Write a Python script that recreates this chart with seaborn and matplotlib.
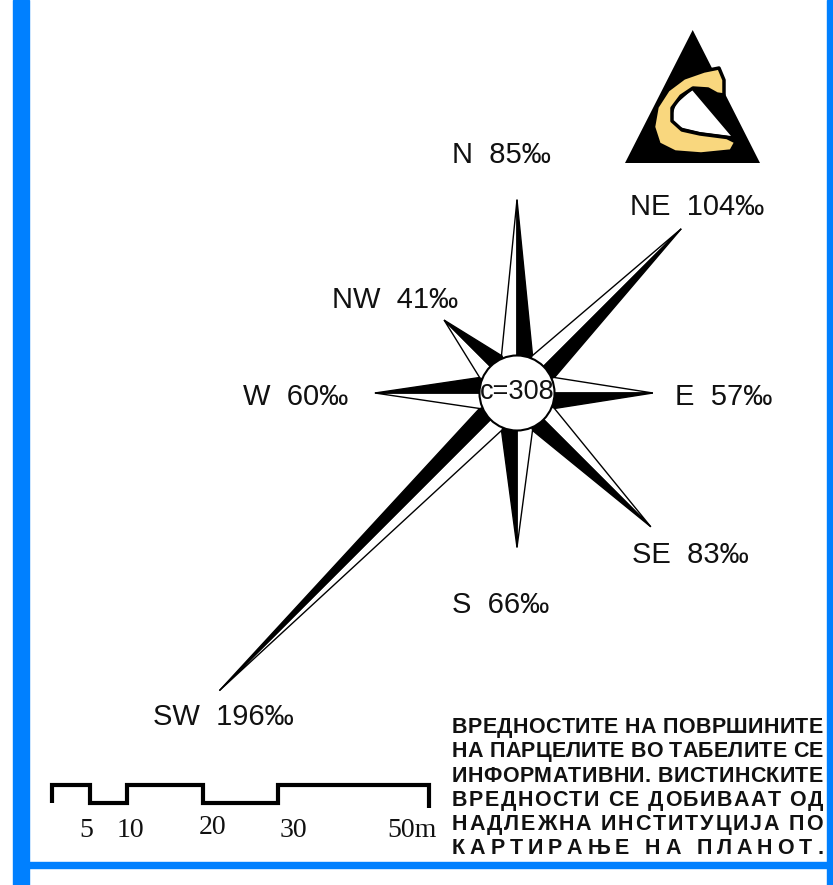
import numpy as np
import matplotlib
matplotlib.use("Agg")
import matplotlib.pyplot as plt
import seaborn as sns
from matplotlib.patches import Polygon, Circle, Rectangle
from matplotlib.font_manager import FontProperties, findfont
from matplotlib.ft2font import FT2Font

# ---- data ----
directions = ["N", "NE", "E", "SE", "S", "SW", "W", "NW"]
angles_deg = [90, 45, 0, -45, -90, -135, 180, 135]
values = [85, 104, 57, 83, 66, 196, 60, 41]   # promille
total_label = "c=308"

scale_ticks = [0, 5, 10, 20, 30, 50]
scale_levels = [1, 0, 1, 0, 1]               # up / down per segment
scale_labels = ["5", "10", "20", "30", "50m"]
scale_label_at = [5, 10, 20, 30, 50]

note_lines = [
    "ВРЕДНОСТИТЕ НА ПОВРШИНИТЕ",
    "НА ПАРЦЕЛИТЕ ВО ТАБЕЛИТЕ СЕ",
    "ИНФОРМАТИВНИ. ВИСТИНСКИТЕ",
    "ВРЕДНОСТИ СЕ ДОБИВААТ ОД",
    "НАДЛЕЖНА ИНСТИТУЦИЈА ПО",
    "КАРТИРАЊЕ НА ПЛАНОТ.",
]

# ---- style ----
sns.set_theme(style="white")
plt.rcParams["font.family"] = ["Liberation Sans", "DejaVu Sans"]

W, H = 833, 885
DPI = 100
BLUE = "#0080FF"
fig = plt.figure(figsize=(W / DPI, H / DPI), dpi=DPI)
fig.patch.set_facecolor("white")

# blue frame
fig.patches.append(Rectangle((13 / W, 0), 16 / W, 1, transform=fig.transFigure, color=BLUE))
fig.patches.append(Rectangle((827 / W, 0), 6 / W, 1, transform=fig.transFigure, color=BLUE))
fig.patches.append(Rectangle((29 / W, 1 - 868 / H), 800 / W, 6 / H, transform=fig.transFigure, color=BLUE))

# ---- wind rose (units = promille) ----
px_per_unit = 2.05
cx, cy = 517, 393
ax = fig.add_axes([0, 0, 1, 1])
ax.set_xlim(-cx / px_per_unit, (W - cx) / px_per_unit)
ax.set_ylim(-(H - cy) / px_per_unit, cy / px_per_unit)
ax.set_aspect("equal")
ax.axis("off")
ax.patch.set_alpha(0)

base_r = 18.0
half_w = 7.6
offset0 = 9.3
label_offsets = {  # pixels from arm tip to label (left, baseline)
    "N": (-65, 37), "NE": (-51, 14), "E": (22, -12), "SE": (-19, -36),
    "S": (-65, -66), "SW": (-66, -34), "W": (-132, -12), "NW": (-112, 12),
}

for d, a, v in zip(directions, angles_deg, values):
    t = np.deg2rad(a)
    u = np.array([np.cos(t), np.sin(t)])
    n_cw = np.array([u[1], -u[0]])
    L = offset0 + v
    tip = L * u
    side_cw = base_r * u + half_w * n_cw
    side_ccw = base_r * u - half_w * n_cw
    ax.add_patch(Polygon([(0, 0), tip, side_ccw], closed=True, facecolor="white",
                         edgecolor="black", lw=1.0, zorder=2))
    ax.add_patch(Polygon([(0, 0), tip, side_cw], closed=True, facecolor="black",
                         edgecolor="black", lw=1.0, zorder=2))
    ox, oy = label_offsets[d]
    ax.annotate(f"{d}  {v}‰", xy=tip, xytext=(ox, oy), textcoords="offset pixels",
                ha="left", va="baseline", fontsize=21, color="#111111")

ax.add_patch(Circle((0, 0), 18.3, facecolor="white", edgecolor="black", lw=1.5, zorder=4))
ax.text(0, 0.6, total_label, ha="center", va="center", fontsize=19.5, zorder=5, color="#111111")

# ---- logo (pixel coordinates) ----
lax = fig.add_axes([0, 0, 1, 1])
lax.set_xlim(0, W)
lax.set_ylim(H, 0)
lax.axis("off")
lax.patch.set_alpha(0)
lax.add_patch(Polygon([(692.7, 30), (625, 163), (760, 163)], facecolor="black", edgecolor="none"))
lax.add_patch(Polygon([(692, 90), (731, 136), (700, 132), (679, 127), (671, 119), (676, 104)],
                      facecolor="white", edgecolor="none"))
c_shape = [(719, 68), (704, 71), (684, 78), (668, 90), (657, 107), (653.5, 127), (659, 144),
           (675, 152), (701, 154), (731, 151), (736, 142), (727, 137.5), (700, 134),
           (682, 130), (672, 121), (672, 108), (681, 96), (693, 88), (708, 89), (717, 94),
           (724, 95), (724, 80)]
lax.add_patch(Polygon(c_shape, facecolor="#F9D77E", edgecolor="black", lw=2.5, joinstyle="round"))

# ---- scale bar (metres) ----
sax = fig.add_axes([52 / W, 1 - 803 / H, 377 / W, 18 / H])
sax.axis("off")
sax.patch.set_alpha(0)
xs, ys = [scale_ticks[0]], [0]
for i, lvl in enumerate(scale_levels):
    xs += [scale_ticks[i], scale_ticks[i + 1]]
    ys += [lvl, lvl]
    if i + 1 < len(scale_levels):
        xs.append(scale_ticks[i + 1])
        ys.append(scale_levels[i + 1])
xs.append(scale_ticks[-1])
ys.append(-0.25)
sns.lineplot(x=xs, y=ys, sort=False, estimator=None, color="black", lw=3.0, ax=sax,
             solid_joinstyle="miter", solid_capstyle="butt", clip_on=False)
sax.set_xlim(0, 50)
sax.set_ylim(0, 1)
label_shift = [-0.45, 0.4, 1.25, 2.0, -2.2]
label_y = [-1.9, -1.9, -1.75, -1.9, -1.9]
for lab, at, sh, yy in zip(scale_labels, scale_label_at, label_shift, label_y):
    sax.text(at + sh, yy, lab, ha="center", va="baseline", fontsize=20,
             family=["Liberation Serif", "DejaVu Serif"], color="#111111")

# ---- justified note text ----
fp = FontProperties(family="Liberation Sans", weight="bold", size=15.5)
font = FT2Font(findfont(fp))
font.set_size(15.5, DPI)


def advance(ch):
    g = font.load_char(ord(ch))
    return g.linearHoriAdvance / 65536


left, right = 452, 823
for i, line in enumerate(note_lines):
    adv = [advance(c) for c in line]
    extra = (right - left - sum(adv)) / (len(line) - 1)
    x = left
    y = 733 + i * 24.3
    for c, a in zip(line, adv):
        if c != " ":
            fig.text(x / W, 1 - y / H, c, ha="left", va="baseline",
                     fontproperties=fp, color="#111111")
        x += a + extra

fig.savefig("out.png", dpi=DPI)
